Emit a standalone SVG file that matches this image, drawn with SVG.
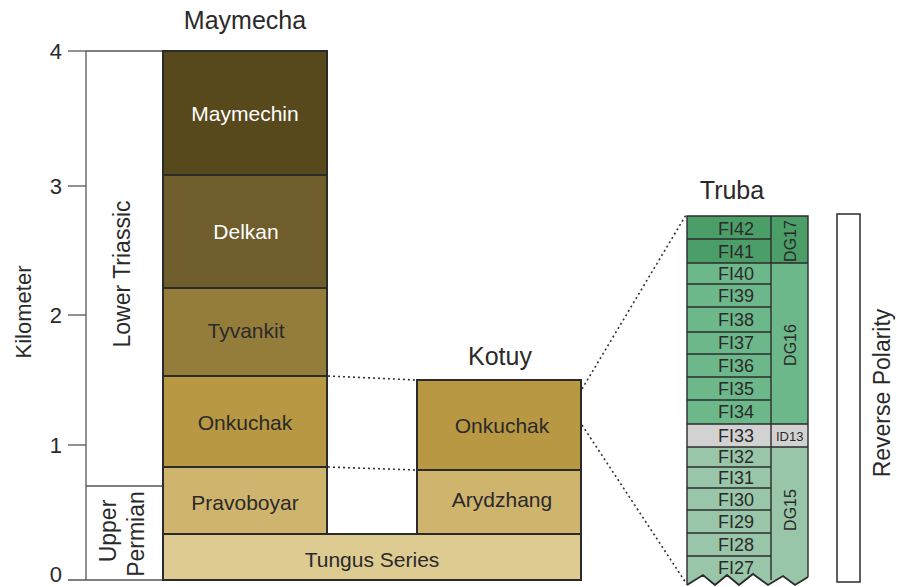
<svg xmlns="http://www.w3.org/2000/svg" width="897" height="587" viewBox="0 0 897 587">
<style>
text{font-family:"Liberation Sans",Arial,sans-serif;fill:#2a2a2a}
.t{font-size:25px;text-anchor:middle}
.l{font-size:21px;text-anchor:middle}
.r{font-size:23px;text-anchor:middle}
.w{fill:#ffffff}
.ax{font-size:22px;text-anchor:end}
.fi{font-size:18px;text-anchor:middle}
.dg{font-size:16px;text-anchor:middle}
.blk{stroke:#2b2b2b;stroke-width:2}
.axl{stroke:#555;stroke-width:1.3;fill:none}
.tl{stroke:#2b2b2b;stroke-width:1.4;fill:none}
.dot{stroke:#333;stroke-width:1.6;stroke-dasharray:2 3;fill:none}
</style>

<g id="axis">
  <line class="axl" x1="86" y1="51" x2="86" y2="580"/>
  <line class="axl" x1="86" y1="51" x2="163" y2="51"/>
  <line class="axl" x1="86" y1="486" x2="163" y2="486"/>
  <line class="axl" x1="68" y1="580" x2="163" y2="580"/>
  <line class="axl" x1="68" y1="51" x2="86" y2="51"/>
  <line class="axl" x1="68" y1="186" x2="86" y2="186"/>
  <line class="axl" x1="68" y1="315" x2="86" y2="315"/>
  <line class="axl" x1="68" y1="445" x2="86" y2="445"/>
  <text class="ax" x="62" y="59">4</text>
  <text class="ax" x="62" y="194">3</text>
  <text class="ax" x="62" y="323">2</text>
  <text class="ax" x="62" y="453">1</text>
  <text class="ax" x="62" y="582">0</text>
  <text class="r" style="font-size:22px" transform="translate(31,312) rotate(-90)">Kilometer</text>
  <text class="r" transform="translate(130,274) rotate(-90)">Lower Triassic</text>
  <text class="r" transform="translate(116,531) rotate(-90)">Upper</text>
  <text class="r" transform="translate(144,534) rotate(-90)">Permian</text>
</g>

<g id="maymecha">
  <text class="t" x="245" y="29">Maymecha</text>
  <rect class="blk" x="163" y="51" width="164" height="124" fill="#58491c"/>
  <rect class="blk" x="163" y="175" width="164" height="113" fill="#705d2c"/>
  <rect class="blk" x="163" y="288" width="164" height="88" fill="#947d3b"/>
  <rect class="blk" x="163" y="376" width="164" height="91" fill="#b89843"/>
  <rect class="blk" x="163" y="467" width="164" height="67" fill="#cfb46e"/>
  <text class="l w" x="245" y="121">Maymechin</text>
  <text class="l w" x="246" y="239">Delkan</text>
  <text class="l" x="246" y="338">Tyvankit</text>
  <text class="l" x="245" y="430">Onkuchak</text>
  <text class="l" x="245" y="510">Pravoboyar</text>
</g>

<g id="kotuy">
  <text class="t" x="500" y="365">Kotuy</text>
  <rect class="blk" x="417" y="380" width="164" height="90" fill="#b89843"/>
  <rect class="blk" x="417" y="470" width="164" height="64" fill="#cfb46e"/>
  <text class="l" x="502" y="433">Onkuchak</text>
  <text class="l" x="502" y="507">Arydzhang</text>
</g>

<g id="tungus">
  <rect class="blk" x="163" y="534" width="418" height="46" fill="#ddcb91"/>
  <text class="l" x="372" y="567">Tungus Series</text>
</g>

<g id="truba">
  <text class="t" x="732" y="199">Truba</text>
  <rect x="687" y="216" width="121" height="47" fill="#4c9e68"/>
  <rect x="687" y="263" width="121" height="161" fill="#6db88a"/>
  <rect x="687" y="424" width="121" height="23" fill="#d2d2d2"/>
  <polygon points="687,447 808,447 808,577 795,585 783,576 768,585 753,574 739,585 727,575 715,585 703,575 687,585" fill="#99c6a8"/>
  <g class="tl">
    <line x1="687" y1="239" x2="771" y2="239"/>
    <line x1="687" y1="284" x2="771" y2="284"/>
    <line x1="687" y1="307" x2="771" y2="307"/>
    <line x1="687" y1="332" x2="771" y2="332"/>
    <line x1="687" y1="354" x2="771" y2="354"/>
    <line x1="687" y1="377" x2="771" y2="377"/>
    <line x1="687" y1="400" x2="771" y2="400"/>
    <line x1="687" y1="467" x2="771" y2="467"/>
    <line x1="687" y1="488" x2="771" y2="488"/>
    <line x1="687" y1="510" x2="771" y2="510"/>
    <line x1="687" y1="533" x2="771" y2="533"/>
    <line x1="687" y1="556" x2="771" y2="556"/>
    <line x1="687" y1="263" x2="808" y2="263"/>
    <line x1="687" y1="424" x2="808" y2="424"/>
    <line x1="687" y1="447" x2="808" y2="447"/>
    <line x1="771" y1="216" x2="771" y2="580"/>
    <polyline points="687,585 687,216 808,216 808,577"/>
    <polyline points="687,585 703,575 715,585 727,575 739,585 753,574 768,585 783,576 795,585 808,577" stroke-width="1.8"/>
  </g>
  <text class="fi" x="736" y="235">FI42</text>
  <text class="fi" x="736" y="258">FI41</text>
  <text class="fi" x="736" y="280">FI40</text>
  <text class="fi" x="736" y="302">FI39</text>
  <text class="fi" x="736" y="326">FI38</text>
  <text class="fi" x="736" y="349">FI37</text>
  <text class="fi" x="736" y="372">FI36</text>
  <text class="fi" x="736" y="395">FI35</text>
  <text class="fi" x="736" y="418">FI34</text>
  <text class="fi" x="736" y="442">FI33</text>
  <text class="fi" x="736" y="463">FI32</text>
  <text class="fi" x="736" y="484">FI31</text>
  <text class="fi" x="736" y="506">FI30</text>
  <text class="fi" x="736" y="528">FI29</text>
  <text class="fi" x="736" y="551">FI28</text>
  <text class="fi" x="736" y="574">FI27</text>
  <text class="dg" transform="translate(796,241) rotate(-90)">DG17</text>
  <text class="dg" transform="translate(796,345) rotate(-90)">DG16</text>
  <text class="dg" transform="translate(796,510) rotate(-90)">DG15</text>
  <text style="font-size:13px" x="776" y="441">ID13</text>
</g>

<g id="reverse-polarity">
  <rect x="837" y="214" width="23" height="368" fill="#ffffff" stroke="#2b2b2b" stroke-width="1.5"/>
  <text class="r" transform="translate(890,393) rotate(-90)">Reverse Polarity</text>
</g>

<g id="connectors">
  <line class="dot" x1="328" y1="376" x2="416" y2="380"/>
  <line class="dot" x1="328" y1="467" x2="416" y2="470"/>
  <line class="dot" x1="582" y1="389" x2="686" y2="215"/>
  <line class="dot" x1="582" y1="425" x2="686" y2="583"/>
</g>
</svg>
